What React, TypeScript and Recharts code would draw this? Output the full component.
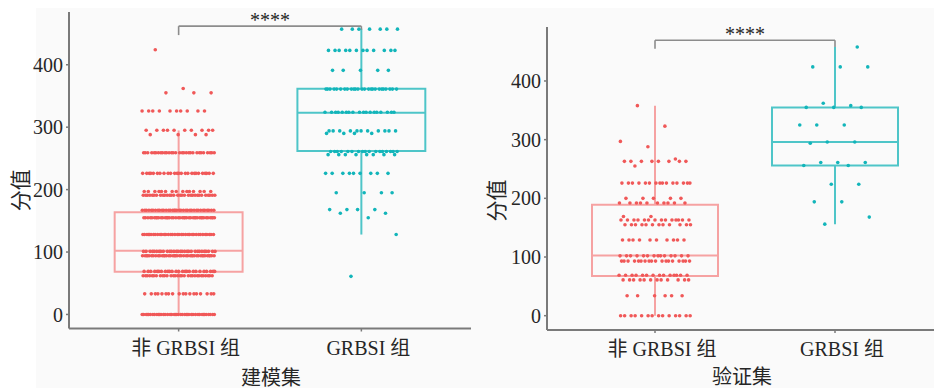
import React from 'react';
import {
  ScatterChart,
  Scatter,
  XAxis,
  YAxis,
  ReferenceArea,
  ReferenceLine,
  ReferenceDot,
} from 'recharts';

// ---------- data ----------
const groupLabels = ['非 GRBSI 组', 'GRBSI 组'];
const yTicks = [0, 100, 200, 300, 400];
const xTicks = [1, 2];

// 建模集 (training set): score levels and number of patients at each level
const trainNonValues = [0, 33, 62, 69, 94, 101, 128, 155, 167, 191, 197, 226, 259, 288, 295, 326, 355, 362, 424];
const trainNonCounts = [40, 18, 30, 25, 40, 30, 35, 40, 35, 30, 15, 25, 30, 4, 10, 10, 3, 1, 1];
const trainGValues = [61, 128, 155, 162, 168, 195, 226, 256, 261, 290, 294, 324, 361, 391, 423, 457];
const trainGCounts = [1, 1, 1, 2, 4, 4, 9, 8, 17, 4, 11, 18, 25, 5, 12, 7];

// 验证集 (validation set)
const validNonValues = [0, 34, 61, 69, 93, 102, 129, 155, 163, 169, 192, 200, 226, 255, 263, 267, 288, 297, 323, 358];
const validNonCounts = [14, 6, 12, 14, 18, 14, 10, 12, 14, 2, 10, 5, 15, 1, 8, 1, 1, 1, 1, 1];
const validGValues = [156, 168, 194, 224, 256, 261, 294, 296, 325, 355, 358, 362, 424, 458];
const validGCounts = [1, 1, 2, 2, 2, 3, 1, 2, 3, 3, 1, 1, 3, 1];

// box-plot statistics [非 GRBSI 组, GRBSI 组]
const trainMin = [0, 128];
const trainQ1 = [68.5, 262];
const trainMedian = [102, 323];
const trainQ3 = [163.7, 361.6];
const trainMax = [294.8, 458];

const validMin = [0, 156];
const validQ1 = [67.7, 256];
const validMedian = [102.4, 296];
const validQ3 = [189, 355];
const validMax = [357.8, 458];

// significance bracket [height, left tip, right tip]
const trainBracket = [461.8, 447.5, 456];
const validBracket = [469.3, 455, 458];
const sigLabel = '****';

// ---------- styling ----------
const RED = '#F05858';
const TEAL = '#12B5BA';
const RED_BOX = '#F6A2A2';
const TEAL_BOX = '#4EC5C8';
const AXIS = '#7a7a7a';
const TEXT = '#262626';
const FONT = "'Liberation Serif', 'Times New Roman', 'Noto Sans CJK SC', serif";
const JITTER = 0.4;
const HALF_BOX = 0.35;

type Pt = { x: number; y: number };

function expand(values: number[], counts: number[], group: number): Pt[] {
  const pts: Pt[] = [];
  let k = 0;
  values.forEach((v, i) => {
    for (let j = 0; j < counts[i]; j++) {
      k += 1;
      const u = (k * 0.6180339887 + group * 0.37) % 1;
      pts.push({ x: group + (u - 0.5) * JITTER, y: v });
    }
  });
  return pts;
}

const dot = (color: string) => (props: any) => (
  <circle cx={props.cx} cy={props.cy} r={1.8} fill={color} />
);

const CategoryTick = (props: any) => {
  const { x, y, payload } = props;
  const label = groupLabels[Math.round(payload.value) - 1] ?? '';
  return (
    <text
      x={x + 7}
      y={y + 14}
      textAnchor="middle"
      fontSize={20}
      fill={TEXT}
      fontFamily={FONT}
    >
      {label}
    </text>
  );
};

type PanelProps = {
  width: number;
  yAxisWidth: number;
  marginTop: number;
  marginBottom: number;
  domain: [number, number];
  title: string;
  titleDx: number;
  titleDy: number;
  yTitleX: number;
  yTitleDy: number;
  nonPts: Pt[];
  gPts: Pt[];
  mins: number[];
  q1: number[];
  med: number[];
  q3: number[];
  maxs: number[];
  bracket: number[];
};

function Panel(p: PanelProps) {
  const boxColors = [RED_BOX, TEAL_BOX];
  return (
    <ScatterChart
      width={p.width}
      height={388}
      margin={{ top: p.marginTop, right: 0, bottom: p.marginBottom, left: 0 }}
    >
      <XAxis
        type="number"
        dataKey="x"
        domain={[0.4, 2.6]}
        ticks={xTicks}
        allowDataOverflow
        height={50}
        tickSize={3}
        tickMargin={9}
        axisLine={{ stroke: AXIS, strokeWidth: 2 }}
        tickLine={{ stroke: AXIS, strokeWidth: 1.5 }}
        tick={<CategoryTick />}
        label={(props: any) => {
          const vb = props.viewBox;
          return (
            <text
              x={vb.x + vb.width / 2 + p.titleDx}
              y={vb.y + p.titleDy}
              textAnchor="middle"
              fontSize={20}
              fill={TEXT}
              fontFamily={FONT}
            >
              {p.title}
            </text>
          );
        }}
      />
      <YAxis
        type="number"
        dataKey="y"
        domain={p.domain}
        ticks={yTicks}
        allowDataOverflow
        width={p.yAxisWidth}
        tickSize={3}
        tickMargin={3}
        axisLine={{ stroke: AXIS, strokeWidth: 2 }}
        tickLine={{ stroke: AXIS, strokeWidth: 1.5 }}
        tick={{ fontSize: 20, fill: TEXT, fontFamily: FONT }}
        label={(props: any) => {
          const vb = props.viewBox;
          const cy = vb.y + vb.height / 2 + p.yTitleDy;
          return (
            <text
              x={p.yTitleX}
              y={cy}
              transform={`rotate(-90, ${p.yTitleX}, ${cy})`}
              textAnchor="middle"
              fontSize={21}
              fill={TEXT}
              fontFamily={FONT}
            >
              分值
            </text>
          );
        }}
      />
      {[0, 1].map((i) => {
        const g = i + 1;
        const c = boxColors[i];
        return (
          <React.Fragment key={g}>
            <ReferenceLine
              segment={[{ x: g, y: p.q3[i] }, { x: g, y: p.maxs[i] }]}
              stroke={c}
              strokeWidth={2}
            />
            <ReferenceLine
              segment={[{ x: g, y: p.mins[i] }, { x: g, y: p.q1[i] }]}
              stroke={c}
              strokeWidth={2}
            />
            <ReferenceArea
              x1={g - HALF_BOX}
              x2={g + HALF_BOX}
              y1={p.q1[i]}
              y2={p.q3[i]}
              fill="none"
              fillOpacity={0}
              stroke={c}
              strokeWidth={2}
            />
            <ReferenceLine
              segment={[{ x: g - HALF_BOX, y: p.med[i] }, { x: g + HALF_BOX, y: p.med[i] }]}
              stroke={c}
              strokeWidth={2}
            />
          </React.Fragment>
        );
      })}
      <Scatter data={p.nonPts} fill={RED} shape={dot(RED)} isAnimationActive={false} />
      <Scatter data={p.gPts} fill={TEAL} shape={dot(TEAL)} isAnimationActive={false} />
      <ReferenceLine
        segment={[{ x: 1, y: p.bracket[0] }, { x: 2, y: p.bracket[0] }]}
        stroke="#8c8c8c"
        strokeWidth={1.6}
      />
      <ReferenceLine
        segment={[{ x: 1, y: p.bracket[1] }, { x: 1, y: p.bracket[0] }]}
        stroke="#8c8c8c"
        strokeWidth={1.6}
      />
      <ReferenceLine
        segment={[{ x: 2, y: p.bracket[2] }, { x: 2, y: p.bracket[0] }]}
        stroke="#8c8c8c"
        strokeWidth={1.6}
      />
      <ReferenceDot
        x={1.5}
        y={p.bracket[0]}
        r={0}
        fill="none"
        stroke="none"
        label={{
          value: sigLabel,
          position: 'top',
          offset: -1,
          fontSize: 20,
          fill: TEXT,
          fontFamily: FONT,
        }}
      />
    </ScatterChart>
  );
}

export default function App() {
  const trainNon = expand(trainNonValues, trainNonCounts, 1);
  const trainG = expand(trainGValues, trainGCounts, 2);
  const validNon = expand(validNonValues, validNonCounts, 1);
  const validG = expand(validGValues, validGCounts, 2);

  return (
    <div
      style={{
        position: 'absolute',
        left: 0,
        top: 0,
        width: 934,
        height: 388,
        overflow: 'hidden',
        background: '#ffffff',
      }}
    >
      <div
        style={{
          position: 'absolute',
          left: 36,
          top: 8,
          width: 898,
          height: 380,
          background: '#fafafa',
        }}
      />
      <div style={{ position: 'absolute', left: 0, top: 0 }}>
        <Panel
          width={471}
          yAxisWidth={69}
          marginTop={12}
          marginBottom={9.5}
          domain={[-22.5, 484.5]}
          title="建模集"
          titleDx={1}
          titleDy={56}
          yTitleX={28}
          yTitleDy={20}
          nonPts={trainNon}
          gPts={trainG}
          mins={trainMin}
          q1={trainQ1}
          med={trainMedian}
          q3={trainQ3}
          maxs={trainMax}
          bracket={trainBracket}
        />
      </div>
      <div style={{ position: 'absolute', left: 470, top: 0 }}>
        <Panel
          width={473}
          yAxisWidth={77}
          marginTop={27}
          marginBottom={8}
          domain={[-24.4, 492]}
          title="验证集"
          titleDx={-3}
          titleDy={54}
          yTitleX={34}
          yTitleDy={22}
          nonPts={validNon}
          gPts={validG}
          mins={validMin}
          q1={validQ1}
          med={validMedian}
          q3={validQ3}
          maxs={validMax}
          bracket={validBracket}
        />
      </div>
    </div>
  );
}
